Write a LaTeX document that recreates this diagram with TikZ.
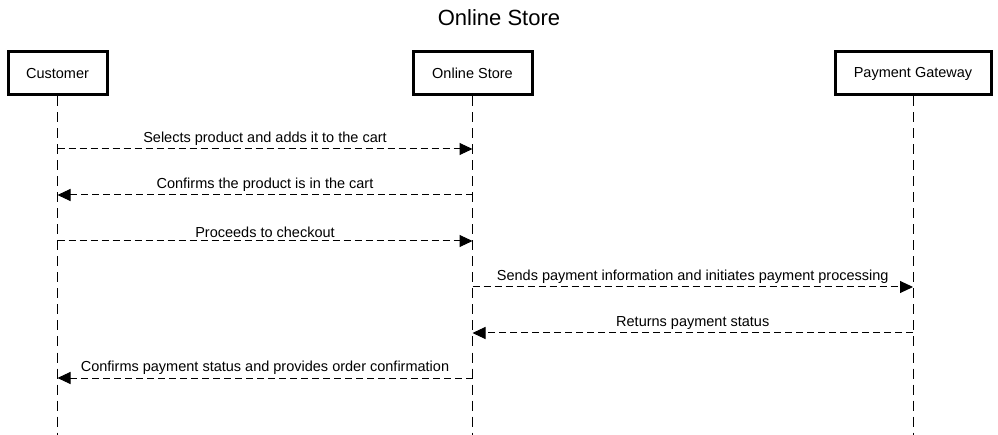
\documentclass[tikz,border=0pt]{standalone}
\usepackage{fontspec}
\setmainfont{Liberation Sans}
\usetikzlibrary{arrows.meta}
\usetikzlibrary{positioning}

\tikzset{actor/.style = {draw, line width=3pt, minimum height=43pt, inner sep=0,
                         font=\fontsize{14.5}{17}\selectfont}}
\tikzset{lifeline/.style = {line width=1pt, dash pattern=on 10pt off 6pt}}
\tikzset{msg/.style = {line width=1pt, dash pattern=on 7pt off 4pt,
                       -{Triangle[length=13pt,width=12pt]}}}
\tikzset{msglabel/.style = {font=\fontsize{14.5}{17}\selectfont, inner sep=0}}

\begin{document}
\begin{tikzpicture}[x=1pt, y=-1pt]
    \useasboundingbox (0, 0) rectangle (998, 435);

    \node [font=\fontsize{22}{26}\selectfont] (title) at (499, 18) {Online Store};

    \node [actor, minimum width=99pt] (customer) at (57.5, 73.5) {Customer};
    \node [actor, minimum width=119pt] (store) at (472.5, 73.5) {Online Store};
    \node [actor, minimum width=156pt] (gateway) at (913, 73.5) {Payment Gateway};

    \coordinate (customer-end) at (57.5, 435);
    \coordinate (store-end) at (472.5, 435);
    \coordinate (gateway-end) at (913, 435);

    \draw [lifeline] (customer) -- (customer-end);
    \draw [lifeline] (store) -- (store-end);
    \draw [lifeline] (gateway) -- (gateway-end);

    % points on the lifelines, one row per message
    \foreach \n/\y in {1/149, 2/195, 3/241, 4/287, 5/333, 6/378} {
        \coordinate (c\n) at (57.5, \y);
        \coordinate (s\n) at (472.5, \y);
        \coordinate (g\n) at (913, \y);
    }

    \draw [msg] (c1) -- (s1) node [msglabel, midway, above=3pt] {Selects product and adds it to the cart};
    \draw [msg] (s2) -- (c2) node [msglabel, midway, above=3pt] {Confirms the product is in the cart};
    \draw [msg] (c3) -- (s3) node [msglabel, midway, above=3pt] {Proceeds to checkout};
    \draw [msg] (s4) -- (g4) node [msglabel, midway, above=3pt] {Sends payment information and initiates payment processing};
    \draw [msg] (g5) -- (s5) node [msglabel, midway, above=3pt] {Returns payment status};
    \draw [msg] (s6) -- (c6) node [msglabel, midway, above=3pt] {Confirms payment status and provides order confirmation};
\end{tikzpicture}
\end{document}
